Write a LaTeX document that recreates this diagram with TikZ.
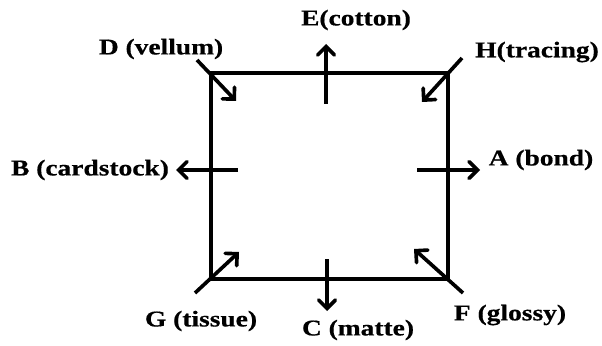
\documentclass[tikz,border=0pt]{standalone}
\usepackage{fontspec}
\newfontfamily\lblfont{Liberation Serif}[FakeStretch=1.22,FakeBold=0.6]
\usepackage{tikz}
\usetikzlibrary{arrows.meta,positioning,calc}

\begin{document}
\begin{tikzpicture}[x=0.025cm,y=-0.025cm,
        lbl/.style={font=\lblfont\bfseries\fontsize{16}{18}\selectfont, inner sep=0pt},
        side/.style={line width=2.8pt, line cap=round},
        arr/.style={line width=2.6pt, -{Straight Barb[length=6pt,width=12pt,line cap=round]}}]
        \useasboundingbox (0,0) rectangle (602,346);
        % Square
        \coordinate (tl) at (211,73);
        \coordinate (tr) at (448,73);
        \coordinate (br) at (448,279);
        \coordinate (bl) at (211,279);
        \draw[side] (tl) -- (tr) -- (br) -- (bl) -- cycle;
        % Labels
        \node[lbl] (E) at (356,20) {E(cotton)};
        \node[lbl] (D) at (161,49) {D (vellum)};
        \node[lbl] (H) at (537,52) {H(tracing)};
        \node[lbl] (B) at (90,170) {B (cardstock)};
        \node[lbl] (A) at (541,160) {A (bond)};
        \node[lbl] (G) at (201,321) {G (tissue)};
        \node[lbl] (C) at (358,330) {C (matte)};
        \node[lbl] (F) at (510,315) {F (glossy)};
        % Arrows
        \coordinate (dS) at (197,60);  \coordinate (dT) at (236,101);
        \coordinate (eS) at (326,104); \coordinate (eT) at (326,44);
        \coordinate (hS) at (462,58);  \coordinate (hT) at (422,102);
        \coordinate (bS) at (238,170); \coordinate (bT) at (176,170);
        \coordinate (aS) at (417,170); \coordinate (aT) at (480,170);
        \coordinate (gS) at (195,293); \coordinate (gT) at (239,252);
        \coordinate (cS) at (327,259); \coordinate (cT) at (327,311);
        \coordinate (fS) at (463,293); \coordinate (fT) at (414,249);
        \foreach \s/\t in {dS/dT,eS/eT,hS/hT,bS/bT,aS/aT,gS/gT,cS/cT,fS/fT} {
            \draw[arr] (\s) -- (\t);
        }
    \end{tikzpicture}
\end{document}
